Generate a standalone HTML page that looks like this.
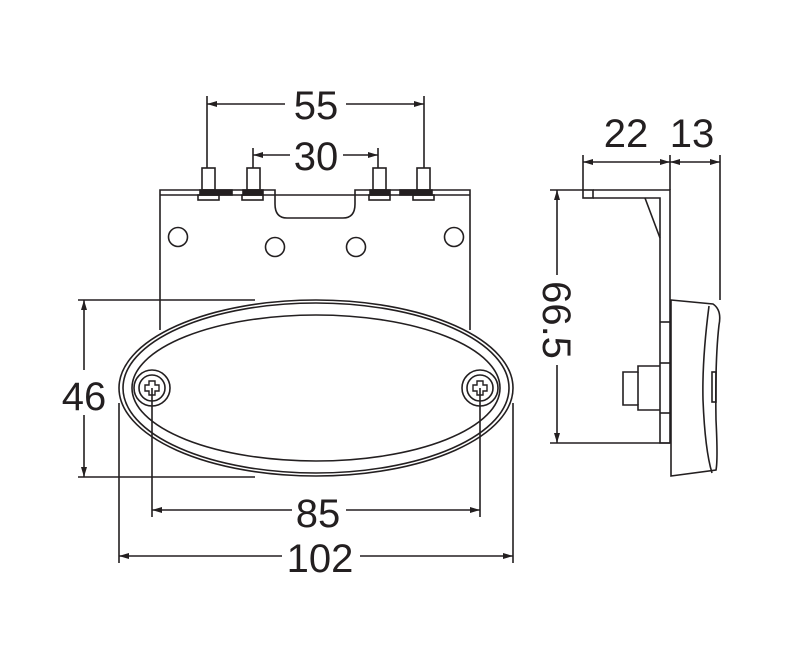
<!DOCTYPE html>
<html><head><style>body{margin:0;background:#fff}svg{display:block}text{font-family:"Liberation Sans",sans-serif;font-size:40px;fill:#231f20}</style></head><body>
<svg width="800" height="649" viewBox="0 0 800 649" fill="none" stroke="#231f20" stroke-width="1.6">
<defs><marker id="a" viewBox="0 0 10 6" refX="10" refY="3" markerWidth="10" markerHeight="6" orient="auto-start-reverse" markerUnits="userSpaceOnUse"><path d="M0,0L10,3L0,6z" fill="#231f20" stroke="none"/></marker></defs>
<!-- plate -->
<path d="M160,330V190H275V204Q275,218 287,218H343Q355,218 355,204V190H470V330"/>
<line x1="160" y1="195" x2="470" y2="195"/>
<rect x="200" y="190" width="32" height="5" fill="#231f20"/><rect x="243" y="190" width="20" height="5" fill="#231f20"/>
<rect x="370" y="190" width="20" height="5" fill="#231f20"/><rect x="400" y="190" width="32" height="5" fill="#231f20"/>
<rect x="198" y="195" width="21" height="5"/><rect x="242" y="195" width="21" height="5"/><rect x="369" y="195" width="21" height="5"/><rect x="413" y="195" width="21" height="5"/>
<rect x="202" y="168" width="13" height="22"/><rect x="247" y="168" width="13" height="22"/><rect x="373" y="168" width="13" height="22"/><rect x="417" y="168" width="13" height="22"/>
<circle cx="178" cy="237" r="9.5"/><circle cx="275" cy="247" r="9.5"/><circle cx="356" cy="247" r="9.5"/><circle cx="454" cy="237" r="9.5"/>
<!-- oval -->
<ellipse cx="316" cy="388" rx="197" ry="88" fill="#fff"/>
<ellipse cx="316" cy="388" rx="193" ry="85"/>
<ellipse cx="316" cy="388" rx="184" ry="73"/>
<circle cx="152" cy="388" r="18" fill="#fff"/><circle cx="152" cy="388" r="13"/>
<circle cx="480" cy="388" r="18" fill="#fff"/><circle cx="480" cy="388" r="13"/>
<path d="M149,381h6v4h4v6h-4v4h-6v-4h-4v-6h4z M477,381h6v4h4v6h-4v4h-6v-4h-4v-6h4z" stroke-width="1.4"/>
<!-- dims -->
<line x1="207" y1="96" x2="207" y2="168"/><line x1="424" y1="96" x2="424" y2="168"/>
<line x1="207" y1="104" x2="285" y2="104" marker-start="url(#a)"/><line x1="346" y1="104" x2="424" y2="104" marker-end="url(#a)"/>
<text x="316" y="119" text-anchor="middle" stroke="none">55</text>
<line x1="253" y1="148" x2="253" y2="168"/><line x1="378" y1="148" x2="378" y2="168"/>
<line x1="253" y1="155" x2="290" y2="155" marker-start="url(#a)"/><line x1="343" y1="155" x2="378" y2="155" marker-end="url(#a)"/>
<text x="316" y="170" text-anchor="middle" stroke="none">30</text>
<line x1="78" y1="300" x2="255" y2="300"/><line x1="78" y1="477" x2="255" y2="477"/>
<line x1="84" y1="300" x2="84" y2="370" marker-start="url(#a)"/><line x1="84" y1="415" x2="84" y2="477" marker-end="url(#a)"/>
<text x="84" y="410" text-anchor="middle" stroke="none">46</text>
<line x1="152" y1="388" x2="152" y2="517"/><line x1="480" y1="388" x2="480" y2="517"/>
<line x1="152" y1="510" x2="292" y2="510" marker-start="url(#a)"/><line x1="346" y1="510" x2="480" y2="510" marker-end="url(#a)"/>
<text x="318" y="527" text-anchor="middle" stroke="none">85</text>
<line x1="119" y1="403" x2="119" y2="563"/><line x1="513" y1="403" x2="513" y2="563"/>
<line x1="119" y1="556" x2="282" y2="556" marker-start="url(#a)"/><line x1="360" y1="556" x2="513" y2="556" marker-end="url(#a)"/>
<text x="320" y="572" text-anchor="middle" stroke="none">102</text>
<!-- side view -->
<line x1="583" y1="155" x2="583" y2="190"/><line x1="670" y1="155" x2="670" y2="190"/><line x1="720" y1="155" x2="720" y2="300"/>
<line x1="583" y1="162" x2="670" y2="162" marker-start="url(#a)" marker-end="url(#a)"/>
<line x1="670" y1="162" x2="720" y2="162" marker-start="url(#a)" marker-end="url(#a)"/>
<text x="626" y="147" text-anchor="middle" stroke="none">22</text>
<text x="692" y="147" text-anchor="middle" stroke="none">13</text>
<line x1="550" y1="190" x2="583" y2="190"/><line x1="550" y1="443" x2="670" y2="443"/>
<line x1="557" y1="190" x2="557" y2="275" marker-start="url(#a)"/><line x1="557" y1="365" x2="557" y2="443" marker-end="url(#a)"/>
<text transform="translate(543,320) rotate(90)" text-anchor="middle" stroke="none">66.5</text>
<rect x="583" y="190" width="10" height="8"/>
<path d="M593,190H670V443H660V198H593"/>
<path d="M645,198L660,238"/>
<line x1="660" y1="322" x2="670" y2="322"/><line x1="660" y1="363" x2="670" y2="363"/><line x1="660" y1="413" x2="670" y2="413"/>
<path d="M660,366H638V372H623V405H638V410H660"/><line x1="638" y1="372" x2="638" y2="405"/>
<path d="M671,300L713,304Q722,310 719,325Q715,360 716,420Q718,460 716,470L671,476Z"/>
<path d="M709,306Q702,360 703,400Q705,450 712,473"/>
<rect x="712" y="372" width="4" height="30"/>
</svg>
</body></html>
